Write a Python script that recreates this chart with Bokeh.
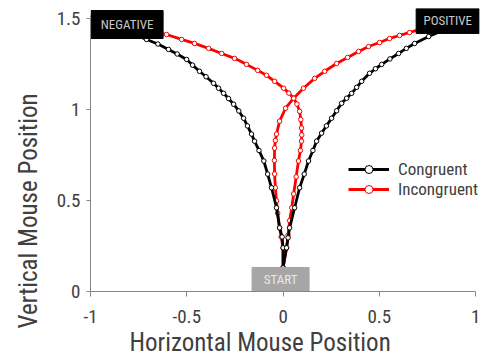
from bokeh.plotting import figure
from bokeh.models import Range1d, Legend, LegendItem, FixedTicker, Label, Title
from bokeh.embed import file_html
from bokeh.resources import INLINE

# ---- data ----
cong_neg_x = [0, 0.0, -0.005, -0.018, -0.034, -0.06, -0.08, -0.10, -0.125, -0.148, -0.164, -0.185, -0.205, -0.23,
              -0.257, -0.283, -0.309, -0.335, -0.361, -0.40, -0.434, -0.47, -0.501, -0.55, -0.595, -0.65, -0.709,
              -0.78, -0.86, -0.93, -1.0]
cong_neg_y = [0.13, 0.24, 0.30, 0.35, 0.46, 0.57, 0.645, 0.717, 0.775, 0.826, 0.865, 0.91, 0.952, 0.992,
              1.029, 1.06, 1.089, 1.117, 1.144, 1.18, 1.21, 1.244, 1.275, 1.305, 1.33, 1.36, 1.385,
              1.415, 1.445, 1.473, 1.5]

cong_pos_x = [0, 0.018, 0.026, 0.034, 0.06, 0.086, 0.11, 0.132, 0.155, 0.174, 0.2, 0.225, 0.252, 0.278, 0.304,
              0.33, 0.356, 0.382, 0.408, 0.449, 0.48, 0.512, 0.555, 0.6, 0.64, 0.683, 0.756, 0.82, 0.88, 0.94, 1.0]
cong_pos_y = [0.13, 0.24, 0.295, 0.35, 0.46, 0.57, 0.645, 0.717, 0.775, 0.826, 0.87, 0.91, 0.952, 0.993, 1.034,
              1.062, 1.089, 1.122, 1.155, 1.199, 1.224, 1.248, 1.278, 1.308, 1.336, 1.363, 1.401, 1.43, 1.455,
              1.478, 1.5]

incong_neg_x = [0, 0.018, 0.026, 0.034, 0.045, 0.055, 0.068, 0.08, 0.09, 0.096, 0.097, 0.096, 0.092, 0.086,
                0.072, 0.055, 0.03, 0.003, -0.044, -0.086, -0.132, -0.19, -0.252, -0.319, -0.387, -0.46, -0.527,
                -0.605, -0.7, -0.8, -0.9, -1.0]
incong_neg_y = [0.13, 0.24, 0.31, 0.389, 0.46, 0.536, 0.63, 0.717, 0.775, 0.826, 0.86, 0.898, 0.945, 0.99,
                1.03, 1.062, 1.09, 1.117, 1.155, 1.188, 1.215, 1.248, 1.281, 1.308, 1.336, 1.363, 1.385,
                1.412, 1.435, 1.46, 1.48, 1.5]

incong_pos_x = [0, 0.0, -0.01, -0.018, -0.028, -0.034, -0.04, -0.044, -0.045, -0.044, -0.04, -0.034, -0.018,
                0.013, 0.055, 0.106, 0.164, 0.216, 0.278, 0.335, 0.392, 0.444, 0.501, 0.553, 0.605, 0.657, 0.709,
                0.78, 0.85, 0.92, 1.0]
incong_pos_y = [0.13, 0.24, 0.30, 0.35, 0.43, 0.498, 0.57, 0.646, 0.72, 0.788, 0.83, 0.865, 0.936,
                1.007, 1.062, 1.117, 1.171, 1.21, 1.253, 1.286, 1.319, 1.346, 1.368, 1.39, 1.407, 1.423, 1.44,
                1.458, 1.475, 1.488, 1.5]

x_ticks = [-1, -0.5, 0, 0.5, 1]
x_tick_labels = ["-1", "-0.5", "0", "0.5", "1"]
y_ticks = [0, 0.5, 1, 1.5]
y_tick_labels = ["0", "0.5", "1", "1.5"]

series_names = ["Congruent", "Incongruent"]
series_colors = ["#000000", "#ff0000"]

x_title = "Horizontal Mouse Position"
y_title = "Vertical Mouse Position"

FONT = "Roboto Condensed, Roboto, sans-serif"
TXT = "#404040"
AX = "#868686"

p = figure(width=480, height=357, output_backend="svg", toolbar_location=None,
           x_range=Range1d(-1.0, 1.02), y_range=Range1d(0.0, 1.555),
           min_border_left=89, min_border_right=2, min_border_top=8, min_border_bottom=66)
p.frame_width = 389
p.frame_height = 283
p.outline_line_color = None
p.grid.visible = False
p.background_fill_color = "white"

# axes
p.xaxis.bounds = (-1, 1)
p.yaxis.bounds = (0, 1.5)
p.xaxis.ticker = FixedTicker(ticks=x_ticks)
p.yaxis.ticker = FixedTicker(ticks=y_ticks)
p.xaxis.major_label_overrides = dict(zip(x_ticks, x_tick_labels))
p.yaxis.major_label_overrides = dict(zip(y_ticks, y_tick_labels))
for ax in (p.xaxis, p.yaxis):
    ax.axis_line_color = AX
    ax.axis_line_width = 1
    ax.major_tick_line_color = AX
    ax.major_tick_in = 0
    ax.minor_tick_line_color = None
    ax.major_label_text_font = FONT
    ax.major_label_text_font_size = "19px"
    ax.major_label_text_color = TXT
p.xaxis.major_tick_out = 5
p.yaxis.major_tick_out = 4
p.xaxis.major_label_standoff = 13
p.yaxis.major_label_standoff = 6

# axis titles, offset from the frame centre as in the reference
p.add_layout(Title(text=x_title, align="left", offset=39, standoff=0, text_font=FONT,
                   text_font_size="25px", text_font_style="normal", text_color=TXT), "below")
p.add_layout(Title(text=y_title, align="left", offset=-37, standoff=22, text_font=FONT,
                   text_font_size="25px", text_font_style="normal", text_color=TXT), "left")

# curves
items = {n: [] for n in series_names}
curves = [
    ("Incongruent", incong_neg_x, incong_neg_y),
    ("Incongruent", incong_pos_x, incong_pos_y),
    ("Congruent", cong_neg_x, cong_neg_y),
    ("Congruent", cong_pos_x, cong_pos_y),
]
for name, xs, ys in curves:
    c = series_colors[series_names.index(name)]
    r1 = p.line(xs, ys, line_color=c, line_width=2.8)
    r2 = p.scatter(xs, ys, marker="circle", size=4.5, fill_color="white", line_color=c, line_width=1)
    items[name] += [r1, r2]

# annotation boxes (drawn over the curve ends)
p.quad(left=[-0.997], right=[-0.623], bottom=[1.39], top=[1.544], color="#000000")
p.quad(left=[0.691], right=[1.018], bottom=[1.418], top=[1.555], color="#000000")
p.quad(left=[-0.161], right=[0.135], bottom=[0.0], top=[0.132], color="#a6a6a6")
for txt, x, y, col in [("NEGATIVE", -0.81, 1.467, "#c8c8c8"),
                       ("POSITIVE", 0.855, 1.4865, "#c8c8c8"),
                       ("START", -0.013, 0.066, "#e6e6e6")]:
    p.add_layout(Label(x=x, y=y, text=txt, text_align="center", text_baseline="middle",
                       text_font=FONT, text_font_size="13px", text_color=col))

legend = Legend(items=[LegendItem(label=n, renderers=items[n][:2]) for n in series_names],
                location=(258, 92), orientation="vertical")
legend.padding = 0
legend.margin = 0
legend.spacing = 0
legend.border_line_alpha = 0
legend.background_fill_alpha = 0
legend.glyph_width = 41
legend.glyph_height = 20
legend.label_height = 20
legend.label_standoff = 9
legend.label_text_font = FONT
legend.label_text_font_size = "17px"
legend.label_text_color = TXT
p.add_layout(legend)

open("out.html", "w").write(file_html(p, INLINE))
